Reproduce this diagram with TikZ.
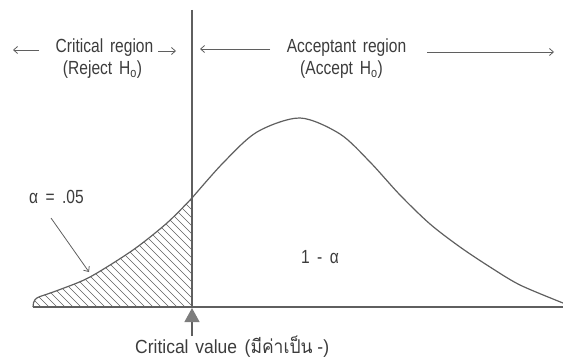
\documentclass[tikz,border=0pt]{standalone}
\usepackage{fontspec}
\setmainfont{Liberation Sans}
\newfontfamily\thaifont[Script=Thai]{Loma}
\usetikzlibrary{arrows.meta}
\definecolor{ink}{RGB}{95,95,95}
\definecolor{txt}{RGB}{60,60,60}
\definecolor{mark}{RGB}{125,125,125}
\newcommand\nar[1]{\scalebox{0.82}[1]{#1}}
\newcommand\narb[1]{\scalebox{0.92}[1]{#1}}
\begin{document}
\begin{tikzpicture}[x=1pt,y=-1pt,
  lbl/.style={text=txt, font=\fontsize{19}{22}\selectfont, inner sep=0pt, anchor=base},
  ln/.style={draw=ink, line width=1.2pt},
  thin/.style={draw=ink, line width=0.8pt},
  hatch/.style={draw=ink, line width=0.65pt},
  tip/.style={-{Straight Barb[length=4pt,width=7pt]}}]
\useasboundingbox (0,0) rectangle (563,361);
% hatching of the critical region
\begin{scope}
  \clip (33,307) .. controls (33,300) and (36,298) .. (40,296.5)
    -- plot[smooth] coordinates {(40,296.5) (60,289.5) (90,277) (133,250) (167,223) (192,198)}
    -- (192,307) -- cycle;
  \foreach \c in {-150,-142,...,200} \draw[hatch] (\c,180) -- ++(135,135);
\end{scope}
% curve
\draw[ln] (33,307) .. controls (33,300) and (36,298) .. (40,296.5)
    -- plot[smooth] coordinates {(40,296.5) (60,289.5) (90,277) (133,250) (167,223) (192,198)};
\draw[ln] plot[smooth] coordinates {(192,198) (223,163) (257,132) (300,118) (340,134) (370,162) (400,195) (430,224) (460,247) (490,267) (520,285) (563,303)};
% axes
\coordinate (vtop) at (192,10);
\coordinate (vbot) at (192,307);
\coordinate (bl) at (33,307);
\coordinate (br) at (563,307);
\draw[ln] (vtop) -- (vbot);
\draw[ln] (bl) -- (br);
% labels top
\node[lbl] (crit1) at (104.5,53) {\nar{Critical\hspace{3pt} region}};
\node[lbl] (crit2) at (102.5,75) {\nar{(Reject\hspace{3pt} H\textsubscript{o})}};
\node[lbl] (acc1) at (346.5,53) {\nar{Acceptant\hspace{3pt} region}};
\node[lbl] (acc2) at (341.5,75) {\nar{(Accept\hspace{3pt} H\textsubscript{o})}};
% region arrows
\coordinate (la1) at (39,50);  \coordinate (la2) at (13,50);
\coordinate (ra1) at (158,51); \coordinate (ra2) at (176,51);
\coordinate (lb1) at (270,49); \coordinate (lb2) at (200,49);
\coordinate (rb1) at (427,52); \coordinate (rb2) at (554,52);
\draw[thin,tip] (la1) -- (la2);
\draw[thin,tip] (ra1) -- (ra2);
\draw[thin,tip] (lb1) -- (lb2);
\draw[thin,tip] (rb1) -- (rb2);
% alpha label
\node[lbl] (alpha) at (56.5,203) {\nar{α\hspace{9pt}=\hspace{9pt}.05}};
\coordinate (aa1) at (51,218); \coordinate (aa2) at (89,272);
\draw[thin,tip] (aa1) -- (aa2);
\node[lbl] (one) at (320,263) {\nar{1\hspace{9pt}-\hspace{9pt}α}};
% critical value marker
\coordinate (cvs) at (192,336);
\coordinate (cvt) at (192,308);
\draw[draw=ink, line width=1.2pt, -{Triangle[length=14pt,width=15pt,color=mark]}] (cvs) -- (cvt);
\node[lbl, anchor=base west] (cv) at (135,353) {\narb{Critical\hspace{2pt} value\hspace{3pt} ({\thaifont มีค่าเป็น} -)}};
\end{tikzpicture}
\end{document}
